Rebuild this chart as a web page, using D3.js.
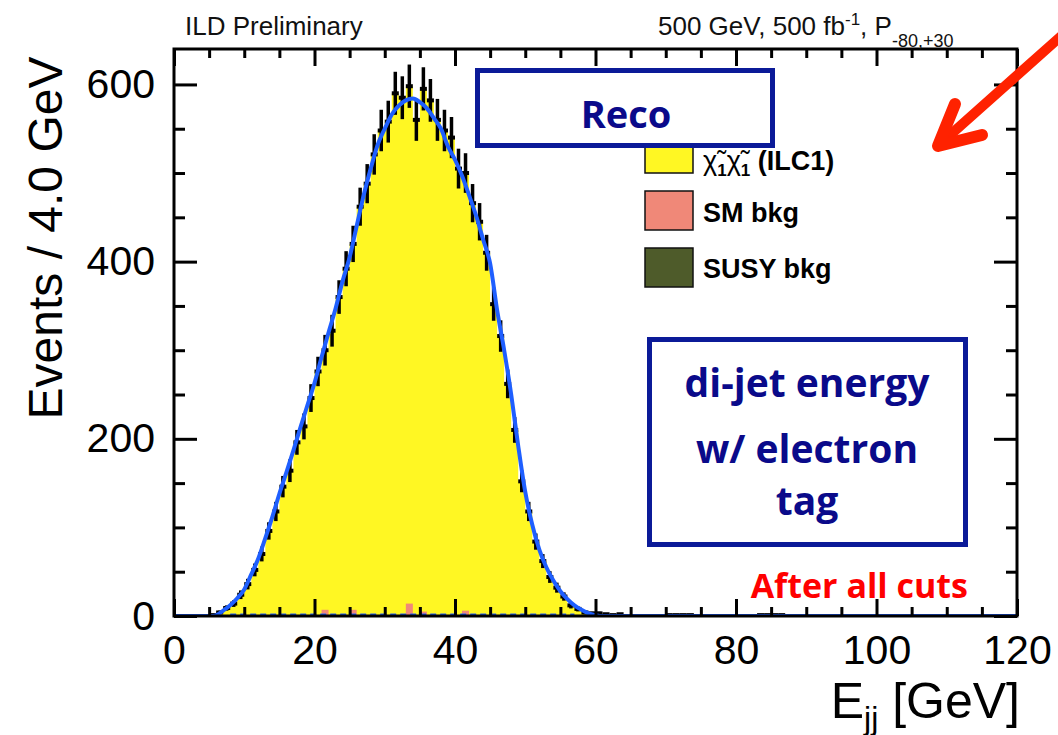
<!DOCTYPE html>
<html><head><meta charset="utf-8">
<script src="https://cdn.jsdelivr.net/npm/d3@7/dist/d3.min.js"></script>
<style>body{margin:0;background:#fff}svg{display:block}</style>
</head><body>
<svg id="c" width="1058" height="735"></svg>
<script>
// ---------------- data ----------------
const xDomain = [0, 120];
const yDomain = [0, 640];
const binLow = 0, binWidth = 1;
// observed events per bin (bins of 1 GeV starting at 0)
const dataCounts = [
  0,0,0,0,0,1,4,9,14,24,
  36,52,70,96,118,146,164,196,214,246,
  276,300,322,360,392,420,462,488,521,548,
  558,590,585,598,560,595,582,560,548,540,
  505,500,466,445,410,352,316,262,210,152,
  118,84,62,44,32,22,12,8,4,3,
  3,2,1,2,0,0,0,0,0,0,
  1,1,1,1,0,0,0,0,0,0,
  0,0,0,1,1,1,1,0,0,0,
  0,0,0,0,0,0,0,0,0,0,
  0,0,0,0,0,0,0,0,0,0,
  0,0,0,0,0,0,0,0,0,0
];
const smBkgBins = [21, 25, 33, 35, 41];
const smBkgCounts = [7, 7, 14, 5, 6];
const susyBkgBins = [];
const susyBkgCounts = [];
// fitted curve
const fitX = [0,5.6,7,8,9,10,11,12,13,14,15,16,17,18,19,20,21,22,23,24,25,26,27,28,29,30,31,32,33,34,35,36,37,38,39,40,41,42,43,44,45,46,47,48,49,50,51,52,53,54,55,56,57,58,59,60,61,120];
const fitY = [0,0,6,12,20,30,47,65,88,112,138,162,187,213,238,263,292,320,347,378,405,440,475,505,532,550,566,576,582,584,580,573,562,550,530,515,497,475,452,425,398,345,300,250,192,140,103,75,55,40,28,19,12,7,3,1,0,0];
// background fit component (dashed)
const bkgFitX = [8, 57];
const bkgFitY = [1.5, 1.5];
const xTickLabels = [0, 20, 40, 60, 80, 100, 120];
const yTickLabels = [0, 200, 400, 600];
const legendItems = ["signal", "SM bkg", "SUSY bkg"];
const legendColors = ["#fff723", "#f08878", "#4e5b2a"];

// ---------------- drawing ----------------
const svg = d3.select('#c');
const M = {l:174, r:1017, t:49, b:616};
const x = d3.scaleLinear().domain(xDomain).range([M.l, M.r]);
const y = d3.scaleLinear().domain(yDomain).range([M.b, M.t]);
const FONT = '"Liberation Sans", Arial, Helvetica, sans-serif';
const BFONT = '"Open Sans", Lato, sans-serif';

svg.append('defs').append('clipPath').attr('id','clip')
  .append('rect').attr('x',M.l).attr('y',M.t).attr('width',M.r-M.l).attr('height',M.b-M.t);
const plot = svg.append('g').attr('clip-path','url(#clip)');

// stacked total (signal yellow)
const pts = dataCounts.map((v,i)=>({x: binLow + i*binWidth, v}));
pts.push({x: binLow + dataCounts.length*binWidth, v: 0});
plot.append('path').datum(pts)
  .attr('d', d3.area().x(d=>x(d.x)).y0(y(0)).y1(d=>y(d.v)).curve(d3.curveStepAfter))
  .attr('fill', legendColors[0]);

// SM background
plot.selectAll('rect.sm').data(smBkgBins.map((b,i)=>({b, v: smBkgCounts[i]}))).join('rect')
  .attr('x', d=>x(binLow+d.b*binWidth)).attr('width', d=>x(binLow+(d.b+1)*binWidth)-x(binLow+d.b*binWidth))
  .attr('y', d=>y(d.v)).attr('height', d=>y(0)-y(d.v)).attr('fill', legendColors[1]);
plot.selectAll('rect.susy').data(susyBkgBins.map((b,i)=>({b, v: susyBkgCounts[i]}))).join('rect')
  .attr('x', d=>x(binLow+d.b*binWidth)).attr('width', d=>x(binLow+(d.b+1)*binWidth)-x(binLow+d.b*binWidth))
  .attr('y', d=>y(d.v)).attr('height', d=>y(0)-y(d.v)).attr('fill', legendColors[2]);

// dashed bkg fit
plot.append('path').datum(bkgFitX.map((v,i)=>[v,bkgFitY[i]]))
  .attr('d', d3.line().x(d=>x(d[0])).y(d=>y(d[1])))
  .attr('stroke','#1f5fff').attr('stroke-width',2.5).attr('stroke-dasharray','6,4').attr('fill','none');

// data points with error bars
const dp = dataCounts.map((v,i)=>({i, v})).filter(d=>d.v>0);
const dg = plot.append('g').attr('stroke','#000');
dg.selectAll('line.h').data(dp).join('line').attr('stroke-width',4)
  .attr('x1', d=>x(binLow+d.i*binWidth)).attr('x2', d=>x(binLow+(d.i+1)*binWidth))
  .attr('y1', d=>y(d.v)).attr('y2', d=>y(d.v));
dg.selectAll('line.v').data(dp).join('line').attr('stroke-width',3.5)
  .attr('x1', d=>x(binLow+(d.i+0.5)*binWidth)).attr('x2', d=>x(binLow+(d.i+0.5)*binWidth))
  .attr('y1', d=>y(d.v+Math.sqrt(d.v))).attr('y2', d=>y(Math.max(0,d.v-Math.sqrt(d.v))));

// fit curve
plot.append('path').datum(fitX.map((v,i)=>[v,fitY[i]]))
  .attr('d', d3.line().x(d=>x(d[0])).y(d=>y(d[1])).curve(d3.curveMonotoneX))
  .attr('stroke','#1f5fff').attr('stroke-width',4).attr('fill','none');

// axes
const xMinor = d3.range(0,121,5).filter(v=>!xTickLabels.includes(v));
const yMinor = d3.range(0,641,50).filter(v=>!yTickLabels.includes(v));
function styleAxis(g){ g.select('.domain').remove(); g.selectAll('line').attr('stroke','#000').attr('stroke-width',3); g.selectAll('text').attr('font-family',FONT).attr('font-size',41).attr('fill','#000'); }
svg.append('g').attr('transform',`translate(0,${M.b})`).call(d3.axisBottom(x).tickValues(xTickLabels).tickSize(-17).tickPadding(19)).call(styleAxis);
svg.append('g').attr('transform',`translate(0,${M.b})`).call(d3.axisBottom(x).tickValues(xMinor).tickSize(-9).tickFormat('')).call(styleAxis);
svg.append('g').attr('transform',`translate(0,${M.t})`).call(d3.axisTop(x).tickValues(xTickLabels).tickSize(-17).tickFormat('')).call(styleAxis);
svg.append('g').attr('transform',`translate(0,${M.t})`).call(d3.axisTop(x).tickValues(xMinor).tickSize(-9).tickFormat('')).call(styleAxis);
svg.append('g').attr('transform',`translate(${M.l},0)`).call(d3.axisLeft(y).tickValues(yTickLabels).tickSize(-23).tickPadding(19)).call(styleAxis);
svg.append('g').attr('transform',`translate(${M.l},0)`).call(d3.axisLeft(y).tickValues(yMinor).tickSize(-11).tickFormat('')).call(styleAxis);
svg.append('g').attr('transform',`translate(${M.r},0)`).call(d3.axisRight(y).tickValues(yTickLabels).tickSize(-23).tickFormat('')).call(styleAxis);
svg.append('g').attr('transform',`translate(${M.r},0)`).call(d3.axisRight(y).tickValues(yMinor).tickSize(-11).tickFormat('')).call(styleAxis);
svg.append('rect').attr('x',M.l).attr('y',M.t).attr('width',M.r-M.l).attr('height',M.b-M.t)
  .attr('fill','none').attr('stroke','#000').attr('stroke-width',3);

// axis titles
svg.append('text').attr('transform','translate(62,238) rotate(-90)').attr('text-anchor','middle')
  .attr('font-family',FONT).attr('font-size',48).text('Events / 4.0 GeV');
const xt = svg.append('text').attr('x',1020).attr('y',718).attr('text-anchor','end').attr('font-family',FONT).attr('font-size',50);
xt.append('tspan').text('E');
xt.append('tspan').attr('font-size',32).attr('dy',11).text('jj');
xt.append('tspan').attr('dy',-11).text(' [GeV]');

// header texts
svg.append('text').attr('x',185).attr('y',35).attr('font-family',FONT).attr('font-size',26).attr('fill','#111').text('ILD Preliminary');
const ht = svg.append('text').attr('x',658).attr('y',35).attr('font-family',FONT).attr('font-size',26).attr('fill','#111');
ht.append('tspan').text('500 GeV, 500 fb');
ht.append('tspan').attr('font-size',17).attr('dy',-10).text('-1');
ht.append('tspan').attr('dy',10).text(', P');
ht.append('tspan').attr('font-size',18).attr('dy',12).text('-80,+30');

// legend
const lg = svg.append('g');
const lgY = [134, 191, 248];
lg.selectAll('rect').data(legendColors).join('rect')
  .attr('x',645).attr('y',(d,i)=>lgY[i]).attr('width',48).attr('height',39)
  .attr('fill',d=>d).attr('stroke','#111').attr('stroke-width',1.5);
const l0 = lg.append('text').attr('x',703).attr('y',170).attr('font-family',FONT).attr('font-size',27).attr('font-weight','bold');
l0.append('tspan').attr('font-weight','normal').text('χ\u0303');
l0.append('tspan').attr('font-size',17).attr('dy',6).text('1');
l0.append('tspan').attr('dy',-6).attr('font-weight','normal').text('χ\u0303');
l0.append('tspan').attr('font-size',17).attr('dy',6).text('1');
l0.append('tspan').attr('dy',-6).text(' (ILC1)');
lg.append('text').attr('x',703).attr('y',222).attr('font-family',FONT).attr('font-size',27).attr('font-weight','bold').text(legendItems[1]);
lg.append('text').attr('x',703).attr('y',278).attr('font-family',FONT).attr('font-size',27).attr('font-weight','bold').text(legendItems[2]);

// annotation boxes
const BOX = '#0b1a98', TXT = '#0a0a8a';
svg.append('rect').attr('x',477.5).attr('y',70.5).attr('width',295).attr('height',75)
  .attr('fill','#fff').attr('stroke',BOX).attr('stroke-width',5);
svg.append('text').attr('x',626).attr('y',128).attr('text-anchor','middle').attr('font-family',BFONT)
  .attr('font-weight','bold').attr('font-size',38).attr('fill',TXT).text('Reco');
svg.append('rect').attr('x',649.5).attr('y',339.5).attr('width',316).attr('height',205)
  .attr('fill','#fff').attr('stroke',BOX).attr('stroke-width',5);
const dj = ['di-jet energy', 'w/ electron', 'tag'];
const djY = [397, 463, 515];
svg.selectAll('text.dj').data(dj).join('text').attr('x',807).attr('y',(d,i)=>djY[i]).attr('text-anchor','middle')
  .attr('font-family',BFONT).attr('font-weight','bold').attr('font-size',39).attr('fill',TXT).text(d=>d);
svg.append('text').attr('x',968).attr('y',598).attr('text-anchor','end').attr('font-family',BFONT)
  .attr('font-weight','bold').attr('font-size',34).attr('fill','#ff0000').text('After all cuts');

// red arrow
const ar = svg.append('g').attr('stroke','#ff2200').attr('stroke-linecap','round').attr('stroke-linejoin','round').attr('fill','none');
ar.append('line').attr('x1',1068).attr('y1',30).attr('x2',940).attr('y2',144).attr('stroke-width',10);
ar.append('path').attr('d','M955,104 L938,146 L982,135').attr('stroke-width',12);
</script>
</body></html>
